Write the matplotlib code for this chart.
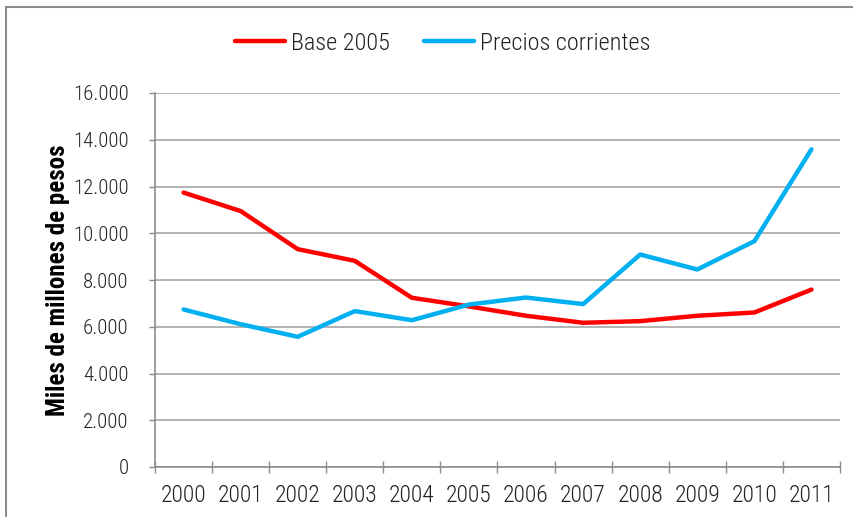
import matplotlib
matplotlib.use("Agg")
import matplotlib.pyplot as plt
from matplotlib import font_manager
from matplotlib.patches import Rectangle
from matplotlib.ticker import FuncFormatter, FixedLocator, NullFormatter

years = ["2000", "2001", "2002", "2003", "2004", "2005", "2006", "2007", "2008", "2009", "2010", "2011"]
base_2005 = [11740, 10950, 9320, 8820, 7240, 6870, 6470, 6170, 6240, 6470, 6610, 7590]
precios_corrientes = [6740, 6110, 5570, 6670, 6280, 6950, 7250, 6970, 9090, 8450, 9660, 13590]
y_ticks = [0, 2000, 4000, 6000, 8000, 10000, 12000, 14000, 16000]

fonts = font_manager.fontManager.ttflist
names = {f.name for f in fonts}
narrow = [n for n in ["Liberation Sans Narrow", "Roboto Condensed", "Open Sans Condensed", "DejaVu Sans Condensed"] if n in names]
if narrow:
    fam = narrow[0]
    stretch = "normal"
else:
    fam = "DejaVu Sans"
    stretch = "condensed"
plt.rcParams["font.family"] = [fam, "DejaVu Sans"]
plt.rcParams["font.stretch"] = stretch

fig = plt.figure(figsize=(8.54, 5.17), dpi=100)
fig.patches.append(Rectangle((6 / 854, -0.1), 1.2, (1 - 7 / 517) + 0.1,
                             transform=fig.transFigure, fill=False,
                             edgecolor="#8c8c8c", linewidth=1.5))

ax = fig.add_axes([155 / 854, 1 - 467 / 517, (840 - 155) / 854, (467 - 93) / 517])
x = list(range(len(years)))
l1, = ax.plot(x, base_2005, color="#ff0000", lw=3.2, solid_capstyle="round", solid_joinstyle="round", label="Base 2005")
l2, = ax.plot(x, precios_corrientes, color="#00b0f0", lw=3.2, solid_capstyle="round", solid_joinstyle="round", label="Precios corrientes")

ax.set_xlim(-0.5, len(years) - 0.5)
ax.set_ylim(0, 16000)
ax.set_yticks(y_ticks)
ax.yaxis.set_major_formatter(FuncFormatter(lambda v, p: f"{int(v):,}".replace(",", ".")))
ax.grid(axis="y", color="#a6a6a6", lw=1.2)
ax.set_axisbelow(True)

ax.set_xticks(x)
ax.set_xticklabels(years)
ax.xaxis.set_minor_locator(FixedLocator([i - 0.5 for i in range(len(years) + 1)]))
ax.xaxis.set_minor_formatter(NullFormatter())
ax.tick_params(axis="x", which="major", length=0, pad=12, labelsize=17)
ax.tick_params(axis="x", which="minor", length=8, width=1, color="#8c8c8c", direction="inout")
ax.tick_params(axis="y", length=4, width=1, color="#8c8c8c", pad=15, labelsize=15)
for lab in ax.get_xticklabels() + ax.get_yticklabels():
    lab.set_color("#222222")
    lab.set_fontweight("light")

for s in ["top", "right"]:
    ax.spines[s].set_visible(False)
ax.spines["left"].set_color("#8c8c8c")
ax.spines["bottom"].set_color("#8c8c8c")
ax.spines["left"].set_linewidth(1.2)
ax.spines["bottom"].set_linewidth(1.2)

ax.set_ylabel("Miles de millones de pesos", fontsize=18, fontweight="bold")
ax.yaxis.set_label_coords(-(155 - 70) / 685, 0.5)

leg = fig.legend(handles=[l1, l2], loc="center", bbox_to_anchor=(443 / 854, 1 - 43 / 517),
                 ncol=2, frameon=False, handlelength=2.05, handletextpad=0.25,
                 columnspacing=1.4, prop={"size": 17.5, "weight": "light"})
for t in leg.get_texts():
    t.set_color("#222222")

fig.savefig("out.png", dpi=100)
